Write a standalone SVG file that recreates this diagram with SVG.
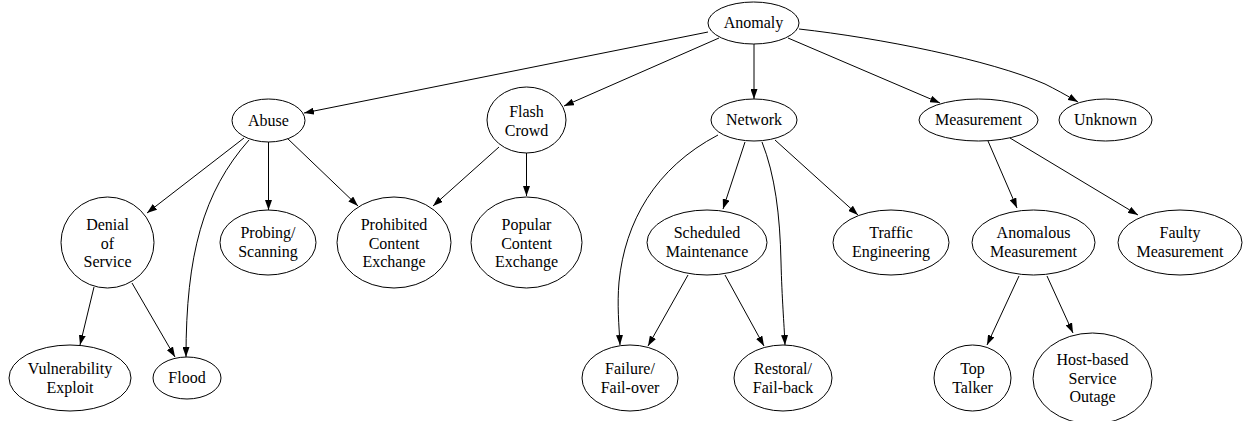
<svg xmlns="http://www.w3.org/2000/svg" width="1245" height="421" viewBox="0 0 1245 421">
<style>
.n ellipse{fill:#fff;stroke:#000;stroke-width:1}
.n text{font-family:"Liberation Serif","Times New Roman",serif;font-size:16px;fill:#000;text-anchor:middle}
.e path{fill:none;stroke:#000;stroke-width:1;marker-end:url(#ah)}
</style>
<defs>
<marker id="ah" markerUnits="userSpaceOnUse" markerWidth="10" markerHeight="7" refX="10" refY="3.5" orient="auto">
<path d="M0,0 L10,3.5 L0,7 z" fill="#000"/>
</marker>
</defs>
<rect width="1245" height="421" fill="#fff"/>
<g id="edges" class="e">
<path d="M708,32 L304,113"/>
<path d="M719,38 L564,106"/>
<path d="M754,44 L754,99"/>
<path d="M788,38 L940,103"/>
<path d="M799,29 C880,38 990,60 1045,84 C1055,89 1066,95 1078,102"/>
<path d="M244,138 L147,213"/>
<path d="M249,140 C203,192 186,255 186,357"/>
<path d="M268.5,142 L268.5,210"/>
<path d="M287,138 L358,206"/>
<path d="M499,147 L433,206"/>
<path d="M526.5,153 L526.5,196"/>
<path d="M718,135 C655,168 625,222 619,282 C617,305 619,325 620,345"/>
<path d="M745,142 L723,209"/>
<path d="M762,142 C775,175 780,215 781,262 C782,300 784,322 785,345"/>
<path d="M775,140 L858,215"/>
<path d="M988,141 L1017,208"/>
<path d="M1010,138 L1138,215"/>
<path d="M94,287 L80,345"/>
<path d="M132,283 L175,357"/>
<path d="M688,275 L648,346"/>
<path d="M725,275 L764,346"/>
<path d="M1019,276 L987,345"/>
<path d="M1047,276 L1073,333"/>
</g>
<g id="anomaly" class="n"><ellipse cx="753.5" cy="23" rx="45.5" ry="21"/><text x="753.5" y="28">Anomaly</text></g>
<g id="abuse" class="n"><ellipse cx="268.5" cy="120.5" rx="36.5" ry="21.5"/><text x="268.5" y="125.5">Abuse</text></g>
<g id="flash-crowd" class="n"><ellipse cx="526.5" cy="120" rx="39.5" ry="33"/><text x="526.5" y="117">Flash</text><text x="526.5" y="135.5">Crowd</text></g>
<g id="network" class="n"><ellipse cx="754" cy="120" rx="43" ry="21"/><text x="754" y="125">Network</text></g>
<g id="measurement" class="n"><ellipse cx="978.5" cy="120" rx="59.5" ry="21"/><text x="978.5" y="125">Measurement</text></g>
<g id="unknown" class="n"><ellipse cx="1105.5" cy="120" rx="46.5" ry="21"/><text x="1105.5" y="125">Unknown</text></g>
<g id="denial-of-service" class="n"><ellipse cx="107.5" cy="242.5" rx="46.5" ry="45.5"/><text x="107.5" y="230">Denial</text><text x="107.5" y="248.5">of</text><text x="107.5" y="267">Service</text></g>
<g id="probing-scanning" class="n"><ellipse cx="268" cy="242.5" rx="48" ry="32.5"/><text x="268" y="238">Probing/</text><text x="268" y="256.5">Scanning</text></g>
<g id="prohibited-content-exchange" class="n"><ellipse cx="394" cy="242.5" rx="57" ry="45.5"/><text x="394" y="230">Prohibited</text><text x="394" y="248.5">Content</text><text x="394" y="267">Exchange</text></g>
<g id="popular-content-exchange" class="n"><ellipse cx="526.5" cy="242.5" rx="55.5" ry="45.5"/><text x="526.5" y="230">Popular</text><text x="526.5" y="248.5">Content</text><text x="526.5" y="267">Exchange</text></g>
<g id="scheduled-maintenance" class="n"><ellipse cx="707" cy="242.5" rx="60" ry="32.5"/><text x="707" y="238">Scheduled</text><text x="707" y="256.5">Maintenance</text></g>
<g id="traffic-engineering" class="n"><ellipse cx="891" cy="242.5" rx="58" ry="32.5"/><text x="891" y="238">Traffic</text><text x="891" y="256.5">Engineering</text></g>
<g id="anomalous-measurement" class="n"><ellipse cx="1033.5" cy="242.5" rx="61.5" ry="32.5"/><text x="1033.5" y="238">Anomalous</text><text x="1033.5" y="256.5">Measurement</text></g>
<g id="faulty-measurement" class="n"><ellipse cx="1180" cy="242.5" rx="62" ry="32.5"/><text x="1180" y="238">Faulty</text><text x="1180" y="256.5">Measurement</text></g>
<g id="vulnerability-exploit" class="n"><ellipse cx="70" cy="378" rx="61" ry="33"/><text x="70" y="374">Vulnerability</text><text x="70" y="392.5">Exploit</text></g>
<g id="flood" class="n"><ellipse cx="187" cy="378" rx="34" ry="21"/><text x="187" y="383">Flood</text></g>
<g id="failure-fail-over" class="n"><ellipse cx="630" cy="378" rx="48" ry="33"/><text x="630" y="374">Failure/</text><text x="630" y="392.5">Fail-over</text></g>
<g id="restoral-fail-back" class="n"><ellipse cx="783" cy="378" rx="49" ry="33"/><text x="783" y="374">Restoral/</text><text x="783" y="392.5">Fail-back</text></g>
<g id="top-talker" class="n"><ellipse cx="972.5" cy="378" rx="38.5" ry="33"/><text x="972.5" y="374">Top</text><text x="972.5" y="392.5">Talker</text></g>
<g id="host-based-service-outage" class="n"><ellipse cx="1092.5" cy="378.5" rx="59.5" ry="45.5"/><text x="1092.5" y="365">Host-based</text><text x="1092.5" y="383.5">Service</text><text x="1092.5" y="402">Outage</text></g>
</svg>
